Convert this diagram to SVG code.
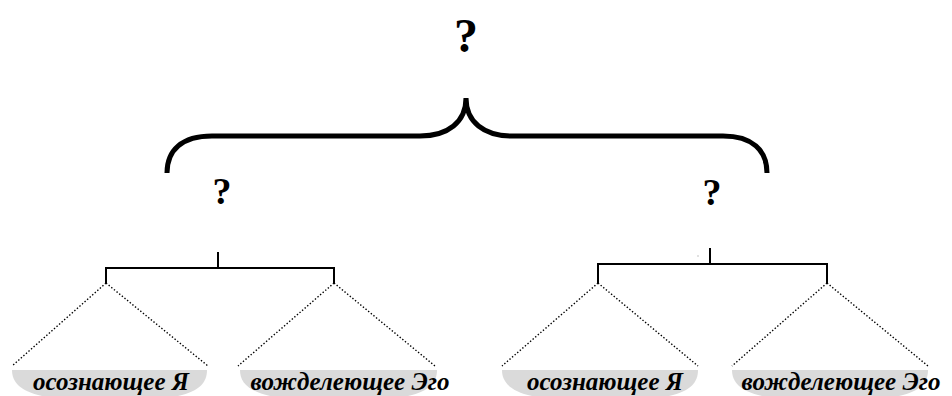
<svg xmlns="http://www.w3.org/2000/svg" width="952" height="396" viewBox="0 0 952 396">
  <style>
    .q { font-family: "Liberation Serif", "Times New Roman", serif; font-weight: bold; text-anchor: middle; fill: #000; }
    .lbl { font-family: "Liberation Serif", "Times New Roman", serif; font-weight: bold; font-style: italic; font-size: 25px; text-anchor: middle; fill: #000; }
    .brace { fill: none; stroke: #000; stroke-width: 5; stroke-linecap: butt; }
    .solid { fill: none; stroke: #000; stroke-width: 2; }
    .dot { fill: none; stroke: #000; stroke-width: 1.4; stroke-dasharray: 1.4 2; }
    .shade { fill: #dadada; }
  </style>
  <rect width="952" height="396" fill="#fff"/>

  <g id="top">
    <text class="q" x="466" y="52" font-size="48">?</text>
    <path class="brace" d="M167,173 C167,150 182,136 212,136 H420 C448,136 466,122 466,98 C466,122 484,136 512,136 H723 C752,136 767,150 767,173"/>
  </g>

  <g id="left-q">
    <text class="q" x="222" y="204" font-size="38">?</text>
  </g>
  <g id="right-q">
    <text class="q" x="712" y="205" font-size="38">?</text>
  </g>

  <g id="connectors">
    <path class="solid" d="M218,252 V268 M106,283 V268 H334 V283"/>
    <path class="solid" d="M710,248 V264 M598,283 V264 H827 V283"/>
    <rect x="697.5" y="255.5" width="1" height="1" fill="#888"/>
    <path class="dot" d="M106,283 L12,366 M106,283 L208,366"/>
    <path class="dot" d="M334,283 L238,366 M334,283 L435,366"/>
    <path class="dot" d="M598,283 L502,366 M598,283 L698,366"/>
    <path class="dot" d="M827,283 L732,366 M827,283 L928,366"/>
  </g>

  <g id="left-self">
    <path class="shade" d="M12,370 H207 C207,382 200,391 178,396 H42 C20,391 12,382 12,370 Z"/>
    <text class="lbl" x="111" y="390">осознающее Я</text>
  </g>
  <g id="left-ego">
    <path class="shade" d="M240,370 H437 C437,382 430,391 408,396 H270 C248,391 240,382 240,370 Z"/>
    <text class="lbl" x="350" y="390">вожделеющее Эго</text>
  </g>
  <g id="right-self">
    <path class="shade" d="M502,370 H698 C698,382 691,391 669,396 H532 C510,391 502,382 502,370 Z"/>
    <text class="lbl" x="605" y="390">осознающее Я</text>
  </g>
  <g id="right-ego">
    <path class="shade" d="M732,370 H928 C928,382 921,391 899,396 H762 C740,391 732,382 732,370 Z"/>
    <text class="lbl" x="841" y="390">вожделеющее Эго</text>
  </g>
</svg>
